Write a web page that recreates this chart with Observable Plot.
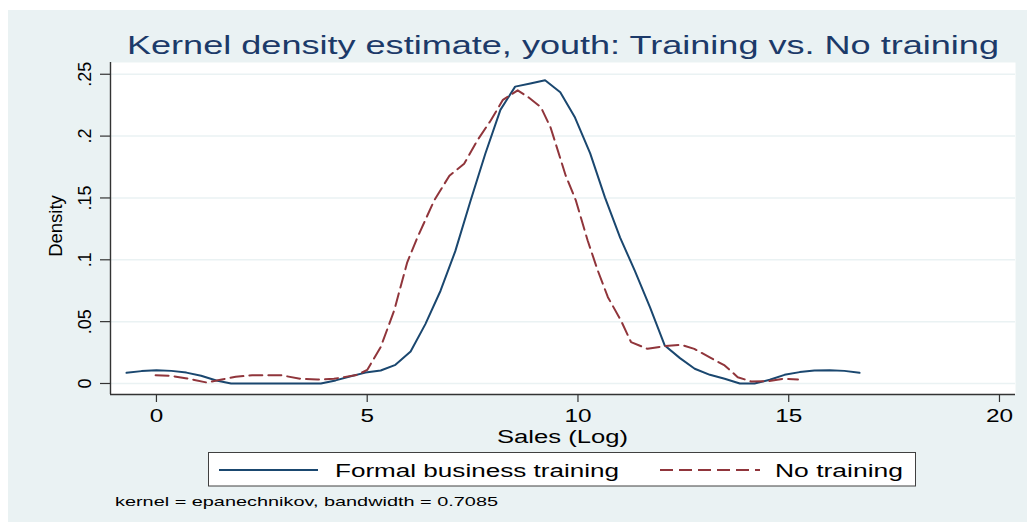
<!DOCTYPE html>
<html>
<head>
<meta charset="utf-8">
<script src="https://cdn.jsdelivr.net/npm/d3@7"></script>
<script src="https://cdn.jsdelivr.net/npm/@observablehq/plot@0.6"></script>
<style>
  html, body { margin: 0; padding: 0; background: #ffffff; }
  #page { position: relative; width: 1027px; height: 522px; overflow: hidden;
          font-family: "Liberation Sans", Arial, sans-serif; }
  #bg { position: absolute; left: 8px; top: 10px; right: 0; bottom: 0; background: #eaf2f3; }
  #chart { position: absolute; left: 0; top: 0; }
  #overlay { position: absolute; left: 0; top: 0; pointer-events: none; }
</style>
</head>
<body>
<div id="page">
  <div id="bg"></div>
  <div id="chart"></div>
  <svg id="overlay" width="1027" height="522"></svg>
</div>
<script>
// ---- data ----
const titleText = "Kernel density estimate, youth: Training vs. No training";
const xLabel = "Sales (Log)";
const yLabel = "Density";
const seriesNames = ["Formal business training", "No training"];
const captionText = "kernel = epanechnikov, bandwidth = 0.7085";

const xTicks = [0, 5, 10, 15, 20];
const xTickLabels = ["0", "5", "10", "15", "20"];
const yTicks = [0, 0.05, 0.1, 0.15, 0.2, 0.25];
const yTickLabels = ["0", ".05", ".1", ".15", ".2", ".25"];

const trainingX = [-0.71, -0.355, 0, 0.355, 0.71, 1.06, 1.42, 1.77, 2.13, 2.48, 2.84, 3.19, 3.55, 3.9, 4.25, 4.61, 4.96, 5.32, 5.67, 6.03, 6.38, 6.74, 7.09, 7.45, 7.8, 8.16, 8.51, 8.87, 9.22, 9.58, 9.93, 10.29, 10.64, 11.0, 11.35, 11.71, 12.06, 12.42, 12.77, 13.13, 13.48, 13.84, 14.19, 14.55, 14.9, 15.26, 15.61, 15.97, 16.32, 16.68];
const trainingY = [0.0086, 0.0100, 0.0108, 0.0102, 0.0088, 0.0062, 0.0024, 0, 0, 0, 0, 0, 0, 0, 0.0025, 0.0058, 0.0088, 0.0105, 0.0151, 0.0259, 0.0480, 0.0750, 0.1070, 0.1475, 0.1855, 0.2212, 0.2400, 0.2425, 0.2452, 0.2355, 0.2150, 0.1860, 0.1505, 0.1180, 0.0910, 0.0615, 0.0307, 0.0205, 0.0119, 0.0070, 0.0038, 0, 0, 0.0030, 0.0070, 0.0092, 0.0105, 0.0108, 0.0102, 0.0086];

const noTrainingX = [-0.02, 0.33, 0.69, 1.19, 1.52, 1.88, 2.27, 2.62, 2.95, 3.42, 3.82, 4.21, 4.77, 5.00, 5.32, 5.64, 5.95, 6.19, 6.59, 6.95, 7.30, 7.61, 7.93, 8.22, 8.57, 8.84, 9.12, 9.35, 9.71, 9.95, 10.23, 10.47, 10.71, 11.02, 11.26, 11.65, 12.05, 12.45, 12.76, 13.16, 13.48, 13.79, 14.11, 14.51, 14.86, 15.22];
const noTrainingY = [0.0067, 0.0062, 0.0043, 0.0008, 0.0030, 0.0054, 0.0067, 0.0067, 0.0067, 0.0038, 0.0032, 0.0038, 0.0070, 0.0110, 0.0294, 0.0590, 0.0980, 0.1180, 0.1480, 0.1680, 0.1776, 0.1964, 0.2126, 0.2293, 0.2370, 0.2310, 0.2234, 0.2070, 0.1680, 0.1480, 0.1156, 0.0913, 0.0698, 0.0509, 0.0334, 0.0280, 0.0302, 0.0313, 0.0280, 0.0205, 0.0146, 0.0051, 0.0016, 0.0019, 0.0038, 0.0032];

const xDomain = [-1.09, 20.38];
const yDomain = [-0.0089, 0.2595];

// ---- styles ----
const BLUE = "#1a476f";
const RED = "#90353b";
const AXIS = "#333333";
const GRID = "#eaf2f3";
const FONT = "Liberation Sans, Arial, sans-serif";
const DASH = "13,6";
const STRETCH = 1.39;

const training = trainingX.map((x, i) => ({x, y: trainingY[i]}));
const noTraining = noTrainingX.map((x, i) => ({x, y: noTrainingY[i]}));

const chart = Plot.plot({
  width: 1027,
  height: 450,
  marginLeft: 110,
  marginRight: 12,
  marginTop: 62,
  marginBottom: 56,
  style: {background: "transparent", fontFamily: FONT, overflow: "visible", color: "#000"},
  x: {domain: xDomain},
  y: {domain: yDomain},
  marks: [
    Plot.frame({fill: "white", stroke: null}),
    Plot.gridY(yTicks, {stroke: GRID, strokeOpacity: 1, strokeWidth: 1.5}),
    Plot.line(training, {x: "x", y: "y", stroke: BLUE, strokeWidth: 2, curve: "linear"}),
    Plot.line(noTraining, {x: "x", y: "y", stroke: RED, strokeWidth: 2, strokeDasharray: DASH, curve: "linear"}),
    Plot.ruleX([xDomain[0]], {stroke: AXIS, strokeWidth: 1.4}),
    Plot.ruleY([yDomain[0]], {stroke: AXIS, strokeWidth: 1.4}),
    Plot.axisX(xTicks, {
      tickSize: 8, tickPadding: 7, fontSize: 17.5, stroke: AXIS, strokeWidth: 1.2, fill: "#000",
      tickFormat: d => xTickLabels[xTicks.indexOf(d)], label: null
    }),
    Plot.axisY(yTicks, {
      tickSize: 10, tickPadding: 10, fontSize: 18, stroke: AXIS, strokeWidth: 1.2, fill: "#000",
      tickRotate: -90, textAnchor: "middle", lineAnchor: "bottom",
      tickFormat: d => yTickLabels[yTicks.indexOf(d)], label: null
    })
  ]
});
document.getElementById("chart").appendChild(chart);

// widen the x tick labels like the reference's stretched text
chart.querySelectorAll('g[aria-label="x-axis tick label"] text').forEach(t => {
  const w = t.getComputedTextLength();
  t.setAttribute("textLength", (w * STRETCH).toFixed(1));
  t.setAttribute("lengthAdjust", "spacingAndGlyphs");
});

// ---- overlay: title, axis titles, legend, caption ----
const svg = d3.select("#overlay");
function addText(str, {x, y, size, anchor = "start", color = "#000", length = null, rotate = 0}) {
  const t = svg.append("text")
    .attr("x", x).attr("y", y)
    .attr("font-family", FONT)
    .attr("font-size", size)
    .attr("fill", color)
    .attr("text-anchor", anchor)
    .text(str);
  if (rotate) t.attr("transform", `rotate(${rotate},${x},${y})`);
  if (length) t.attr("textLength", length).attr("lengthAdjust", "spacingAndGlyphs");
  return t;
}

addText(titleText, {x: 127, y: 54, size: 26.5, color: "#1c3a69", length: 872});
addText(xLabel, {x: 562.5, y: 443, size: 18, anchor: "middle", length: 131});
addText(yLabel, {x: 62, y: 226, size: 18.5, anchor: "middle", rotate: -90});

// legend
svg.append("rect").attr("x", 208.5).attr("y", 452.5).attr("width", 707).attr("height", 33.5)
  .attr("fill", "white").attr("stroke", "#404040").attr("stroke-width", 1);
svg.append("line").attr("x1", 219).attr("x2", 318).attr("y1", 470).attr("y2", 470)
  .attr("stroke", BLUE).attr("stroke-width", 2);
svg.append("line").attr("x1", 660).attr("x2", 760).attr("y1", 470).attr("y2", 470)
  .attr("stroke", RED).attr("stroke-width", 2).attr("stroke-dasharray", DASH);
addText(seriesNames[0], {x: 335, y: 477, size: 18.7, length: 284});
addText(seriesNames[1], {x: 775, y: 477, size: 18.7, length: 128});

// caption
addText(captionText, {x: 115, y: 506, size: 13, length: 383});
</script>
</body>
</html>
